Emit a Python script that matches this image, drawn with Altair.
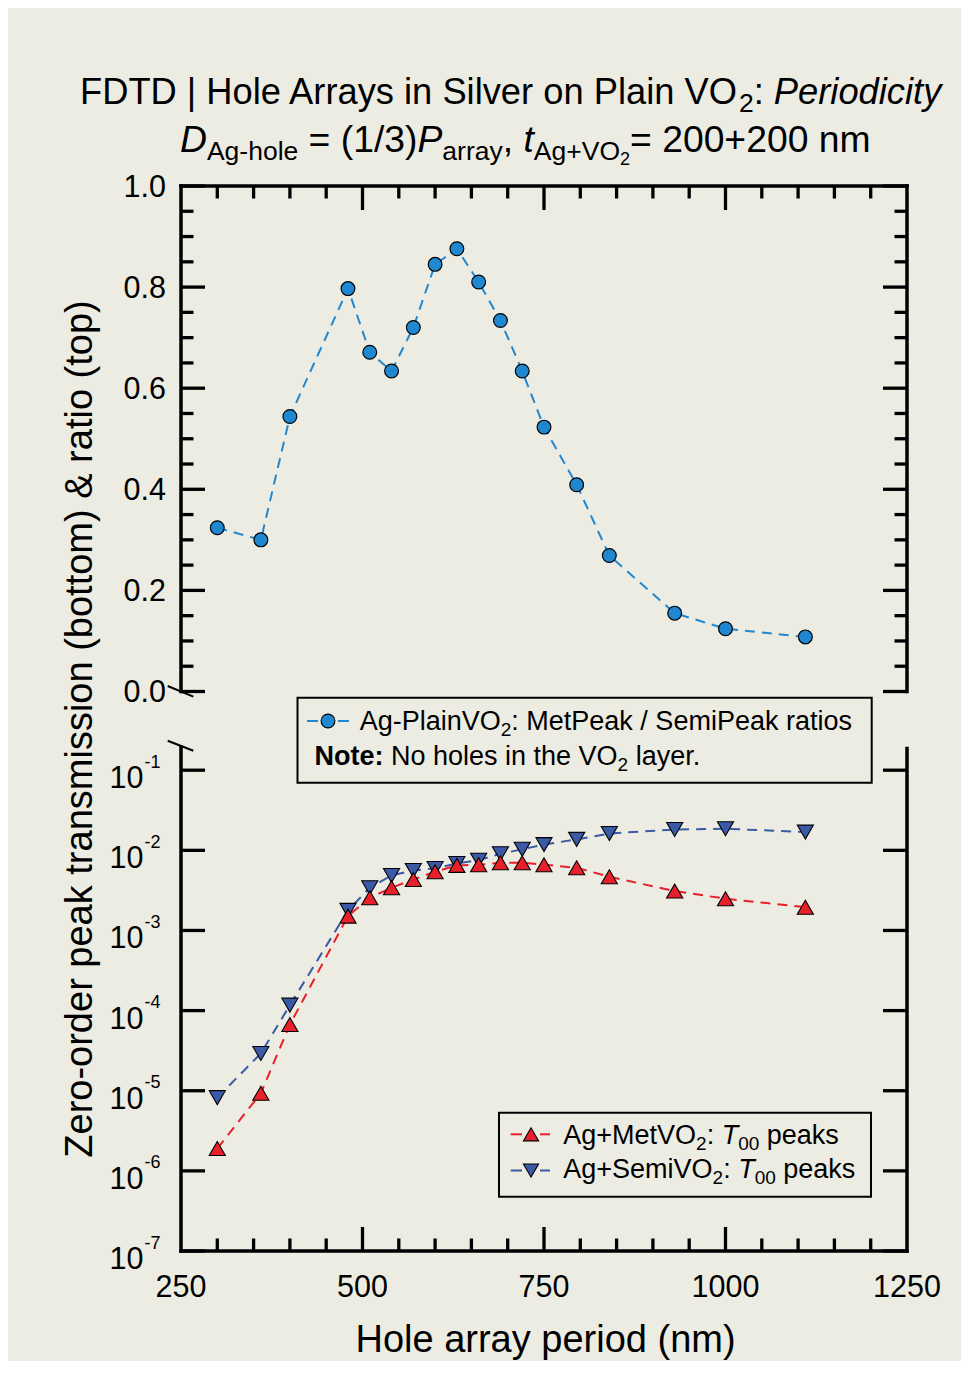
import altair as alt
import pandas as pd

# ---------------- data ----------------
period_nm = [300, 360, 400, 480, 510, 540, 570, 600, 630, 660, 690, 720, 750, 795, 840, 930, 1000, 1110]
ratio_met_over_semi = [0.324, 0.300, 0.544, 0.797, 0.671, 0.634, 0.720, 0.845, 0.876, 0.810,
                       0.734, 0.634, 0.523, 0.409, 0.269, 0.155, 0.124, 0.108]
t00_met_vo2 = [1.9e-6, 9.3e-6, 6.7e-5, 1.51e-3, 2.56e-3, 3.41e-3, 4.33e-3, 5.40e-3, 6.48e-3,
               6.61e-3, 7.0e-3, 7.0e-3, 6.61e-3, 6.06e-3, 4.68e-3, 3.10e-3, 2.49e-3, 1.95e-3]
t00_semi_vo2 = [8.2e-6, 2.92e-5, 1.17e-4, 1.78e-3, 3.41e-3, 4.86e-3, 5.61e-3, 5.94e-3, 6.86e-3,
                7.54e-3, 9.06e-3, 1.03e-2, 1.18e-2, 1.37e-2, 1.62e-2, 1.82e-2, 1.86e-2, 1.69e-2]

x_tick_labels = [250, 500, 750, 1000, 1250]
x_major_ticks = [500, 750, 1000]
x_minor_ticks = [300, 350, 400, 450, 550, 600, 650, 700, 800, 850, 900, 950, 1050, 1100, 1150, 1200]
ratio_major_ticks = [0.0, 0.2, 0.4, 0.6, 0.8, 1.0]
ratio_tick_labels = ["0.0", "0.2", "0.4", "0.6", "0.8", "1.0"]
ratio_minor_ticks = [0.05, 0.10, 0.15, 0.25, 0.30, 0.35, 0.45, 0.50, 0.55, 0.65, 0.70, 0.75, 0.85, 0.90, 0.95]
log_ticks = [1e-1, 1e-2, 1e-3, 1e-4, 1e-5, 1e-6, 1e-7]
log_exponents = ["-1", "-2", "-3", "-4", "-5", "-6", "-7"]

title_line1 = [("FDTD | Hole Arrays in Silver on Plain VO", "t1", "n", 0), ("2", "sub", "n", 8),
               (": ", "t1", "n", 0), ("Periodicity", "t1", "i", 0)]
title_line2 = [("D", "big", "i", 0), ("Ag-hole", "sub", "n", 8), (" = (1/3)", "big", "n", 0),
               ("P", "big", "i", 0), ("array", "sub", "n", 8), (", ", "big", "n", 0),
               ("t", "big", "i", 0), ("Ag+VO", "sub", "n", 8), ("2", "subsub", "n", 13),
               ("= 200+200 nm", "big", "n", 0)]
legend_top_1 = [("Ag-PlainVO", "leg", "n", 0), ("2", "legsub", "n", 6), (": MetPeak / SemiPeak ratios", "leg", "n", 0)]
legend_top_2 = [("Note:", "leg", "b", 0), (" No holes in the VO", "leg", "n", 0), ("2", "legsub", "n", 6),
                (" layer.", "leg", "n", 0)]
legend_bot_1 = [("Ag+MetVO", "leg", "n", 0), ("2", "legsub", "n", 6), (": ", "leg", "n", 0),
                ("T", "leg", "i", 0), ("00", "legsub", "n", 6), (" peaks", "leg", "n", 0)]
legend_bot_2 = [("Ag+SemiVO", "leg", "n", 0), ("2", "legsub", "n", 6), (": ", "leg", "n", 0),
                ("T", "leg", "i", 0), ("00", "legsub", "n", 6), (" peaks", "leg", "n", 0)]
x_title = "Hole array period (nm)"
y_title = "Zero-order peak transmission (bottom) & ratio (top)"

# ---------------- styling / geometry ----------------
FONT = "Liberation Sans"
BG = "#ECECE3"
BLUE1 = "#1F88D1"
RED = "#E8202B"
BLUE2 = "#3A5AA8"
SIZES = {"t1": 36.3, "big": 37.3, "sub": 26.5, "subsub": 18, "leg": 27, "legsub": 19}
W, H = 726, 1065
TOP_H = 505.5          # bottom of upper (linear) panel
DEC1 = 584.2           # pixel row of 1e-1 in lower (log) panel
TICK_LBL = 30.5
AX_TITLE = 38

xs = alt.Scale(domain=[250, 1250], range=[0, W], nice=False, zero=False)
ys_top = alt.Scale(domain=[0, 1], range=[TOP_H, 0], nice=False, zero=False)
ys_bot = alt.Scale(type="log", domain=[1e-7, 1e-1], range=[H, DEC1], nice=False)

# Helvetica / Arial advance widths (1/1000 em) for text layout
_chars = " !\"#$%&'()*+,-./0123456789:;<=>?@ABCDEFGHIJKLMNOPQRSTUVWXYZ[\\]^_`abcdefghijklmnopqrstuvwxyz{|}~"
_w = [278, 278, 355, 556, 556, 889, 667, 191, 333, 333, 389, 584, 278, 333, 278, 278] + [556] * 10 + \
     [278, 278, 584, 584, 584, 556, 1015, 667, 667, 722, 722, 667, 611, 778, 722, 278, 500, 667, 556, 833,
      722, 778, 667, 778, 722, 667, 611, 722, 667, 944, 667, 667, 611, 278, 278, 278, 469, 556, 333,
      556, 556, 500, 556, 556, 278, 556, 556, 222, 222, 500, 222, 833, 556, 556, 556, 556, 333, 500,
      278, 556, 500, 722, 500, 500, 500, 334, 260, 334, 584]
HELV = dict(zip(_chars, _w))
HELV_B = {"N": 722, "o": 611, "t": 333, "e": 556, ":": 333}


def tw(s, fs, bold=False):
    tot = 0
    for c in s:
        tot += (HELV_B.get(c, HELV.get(c, 556) * 1.05) if bold else HELV.get(c, 556))
    return tot * fs / 1000.0


def run(x0, y0, segs):
    rows, x = [], x0
    for txt, sz, st, dy in segs:
        fs = SIZES[sz]
        lead = len(txt) - len(txt.lstrip(" "))
        rows.append(dict(px=x + tw(" " * lead, fs), py=y0 + dy, txt=txt.strip(" "), fs=fs, st=st))
        x += tw(txt, fs, st == "b")
    return rows


txt_rows = []
txt_rows += run(-101.0, -81.7, title_line1)
txt_rows += run(-1.0, -33.7, title_line2)
txt_rows += run(178.7, 544.0, legend_top_1)
txt_rows += run(133.5, 579.0, legend_top_2)
txt_rows += run(382.3, 957.5, legend_bot_1)
txt_rows += run(382.3, 992.0, legend_bot_2)
df_txt = pd.DataFrame(txt_rows)

# ---------------- data layers ----------------
df = pd.DataFrame({"p": period_nm, "r": ratio_met_over_semi, "tm": t00_met_vo2, "ts": t00_semi_vo2})


def X(f):
    return alt.X(f"{f}:Q", scale=xs, axis=None)


top_line = alt.Chart(df).mark_line(color=BLUE1, strokeWidth=2, strokeDash=[10, 7]).encode(
    x=X("p"), y=alt.Y("r:Q", scale=ys_top, axis=None))
top_pts = alt.Chart(df).mark_point(shape="circle", filled=True, color=BLUE1, stroke="black",
                                   strokeWidth=1.2, size=190, opacity=1).encode(
    x=X("p"), y=alt.Y("r:Q", scale=ys_top, axis=None))
semi_line = alt.Chart(df).mark_line(color=BLUE2, strokeWidth=2, strokeDash=[10, 7]).encode(
    x=X("p"), y=alt.Y("ts:Q", scale=ys_bot, axis=None))
met_line = alt.Chart(df).mark_line(color=RED, strokeWidth=2, strokeDash=[10, 7]).encode(
    x=X("p"), y=alt.Y("tm:Q", scale=ys_bot, axis=None))
semi_pts = alt.Chart(df).mark_point(shape="triangle-down", filled=True, color=BLUE2, stroke="black",
                                    strokeWidth=1.1, size=260, opacity=1).encode(
    x=X("p"), y=alt.Y("ts:Q", scale=ys_bot, axis=None))
met_pts = alt.Chart(df).mark_point(shape="triangle-up", filled=True, color=RED, stroke="black",
                                   strokeWidth=1.1, size=260, opacity=1).encode(
    x=X("p"), y=alt.Y("tm:Q", scale=ys_bot, axis=None))

# ---------------- frame, ticks ----------------
axis_segs = pd.DataFrame([
    dict(x1=0, y1=0, x2=0, y2=TOP_H), dict(x1=W, y1=0, x2=W, y2=TOP_H), dict(x1=0, y1=0, x2=W, y2=0),
    dict(x1=0, y1=561, x2=0, y2=H), dict(x1=W, y1=562.5, x2=W, y2=H), dict(x1=0, y1=H, x2=W, y2=H),
])
frame = alt.Chart(axis_segs).mark_rule(color="black", strokeWidth=3.5, strokeCap="square").encode(
    x=alt.X("x1:Q", scale=None, axis=None), x2="x2:Q",
    y=alt.Y("y1:Q", scale=None, axis=None), y2="y2:Q")

break_segs = pd.DataFrame([
    dict(x1=-13.3, y1=500.0, x2=12.3, y2=510.7), dict(x1=-13.3, y1=554.7, x2=12.3, y2=564.7),
])
breaks = alt.Chart(break_segs).mark_rule(color="black", strokeWidth=2).encode(
    x=alt.X("x1:Q", scale=None, axis=None), x2="x2:Q",
    y=alt.Y("y1:Q", scale=None, axis=None), y2="y2:Q")

xt = []
for v in x_minor_ticks:
    xt += [dict(v=v, a=0, b=12.5), dict(v=v, a=H, b=H - 12.5)]
for v in x_major_ticks:
    xt += [dict(v=v, a=0, b=24), dict(v=v, a=H, b=H - 24)]
x_ticks = alt.Chart(pd.DataFrame(xt)).mark_rule(color="black", strokeWidth=3.3).encode(
    x=X("v"), y=alt.Y("a:Q", scale=None, axis=None), y2="b:Q")

yt = []
for v in ratio_minor_ticks:
    yt += [dict(v=v, a=0, b=12.5), dict(v=v, a=W, b=W - 12.5)]
for v in ratio_major_ticks:
    yt += [dict(v=v, a=0, b=24), dict(v=v, a=W, b=W - 24)]
top_y_ticks = alt.Chart(pd.DataFrame(yt)).mark_rule(color="black", strokeWidth=3.3).encode(
    y=alt.Y("v:Q", scale=ys_top, axis=None), x=alt.X("a:Q", scale=None, axis=None), x2="b:Q")

lt = []
for v in log_ticks:
    lt += [dict(v=v, a=0, b=24), dict(v=v, a=W, b=W - 24)]
bot_y_ticks = alt.Chart(pd.DataFrame(lt)).mark_rule(color="black", strokeWidth=3.3).encode(
    y=alt.Y("v:Q", scale=ys_bot, axis=None), x=alt.X("a:Q", scale=None, axis=None), x2="b:Q")

# ---------------- tick labels ----------------
x_lbl = alt.Chart(pd.DataFrame({"v": x_tick_labels, "t": [str(v) for v in x_tick_labels]})).mark_text(
    font=FONT, fontSize=TICK_LBL, align="center", baseline="alphabetic", color="black").encode(
    x=X("v"), y=alt.value(1111), text="t:N")
top_lbl = alt.Chart(pd.DataFrame({"v": ratio_major_ticks, "t": ratio_tick_labels})).mark_text(
    font=FONT, fontSize=TICK_LBL, align="right", baseline="alphabetic", dy=10.5, color="black").encode(
    y=alt.Y("v:Q", scale=ys_top, axis=None), x=alt.value(-15), text="t:N")
df_log = pd.DataFrame({"v": log_ticks, "e": log_exponents, "b": ["10"] * len(log_ticks)})
log_base = alt.Chart(df_log).mark_text(
    font=FONT, fontSize=TICK_LBL, align="right", baseline="alphabetic", dy=18, color="black").encode(
    y=alt.Y("v:Q", scale=ys_bot, axis=None), x=alt.value(-37.5), text="b:N")
log_exp = alt.Chart(df_log).mark_text(
    font=FONT, fontSize=18, align="left", baseline="alphabetic", dy=-2.5, color="black").encode(
    y=alt.Y("v:Q", scale=ys_bot, axis=None), x=alt.value(-36.5), text="e:N")

# ---------------- titles ----------------
xt_mark = alt.Chart(pd.DataFrame({"t": [x_title]})).mark_text(
    font=FONT, fontSize=AX_TITLE, align="center", baseline="alphabetic", color="black").encode(
    x=alt.value(364.5), y=alt.value(1166), text="t:N")
yt_mark = alt.Chart(pd.DataFrame({"t": [y_title]})).mark_text(
    font=FONT, fontSize=AX_TITLE, align="center", baseline="alphabetic", angle=270, color="black").encode(
    x=alt.value(-89.5), y=alt.value(543), text="t:N")

# ---------------- legends (drawn) ----------------
boxes = pd.DataFrame([
    dict(x1=116.5, x2=690.7, y1=511.7, y2=596.7),
    dict(x1=318.0, x2=690.0, y1=926.7, y2=1010.7),
])
box_mark = alt.Chart(boxes).mark_rect(fill=BG, stroke="black", strokeWidth=2).encode(
    x=alt.X("x1:Q", scale=None, axis=None), x2="x2:Q",
    y=alt.Y("y1:Q", scale=None, axis=None), y2="y2:Q")

leg_lines = pd.DataFrame([
    dict(x1=126, x2=137, y=535, c="b1"), dict(x1=157, x2=168, y=535, c="b1"),
    dict(x1=329.7, x2=341, y=948.3, c="r"), dict(x1=359, x2=369, y=948.3, c="r"),
    dict(x1=329.7, x2=341, y=984.5, c="b2"), dict(x1=359, x2=369, y=984.5, c="b2"),
])
leg_line_mark = alt.Chart(leg_lines).mark_rule(strokeWidth=2).encode(
    x=alt.X("x1:Q", scale=None, axis=None), x2="x2:Q",
    y=alt.Y("y:Q", scale=None, axis=None),
    color=alt.Color("c:N", scale=alt.Scale(domain=["b1", "r", "b2"], range=[BLUE1, RED, BLUE2]), legend=None))
leg_sym = pd.DataFrame([
    dict(x=147, y=535, s="circle", c="b1", z=190),
    dict(x=350, y=948.3, s="triangle-up", c="r", z=230),
    dict(x=350, y=984.5, s="triangle-down", c="b2", z=230),
])
leg_sym_mark = alt.Chart(leg_sym).mark_point(filled=True, stroke="black", strokeWidth=1.1,
                                             opacity=1).encode(
    x=alt.X("x:Q", scale=None, axis=None), y=alt.Y("y:Q", scale=None, axis=None),
    shape=alt.Shape("s:N", scale=None, legend=None),
    size=alt.Size("z:Q", scale=None, legend=None),
    fill=alt.Fill("c:N", scale=alt.Scale(domain=["b1", "r", "b2"], range=[BLUE1, RED, BLUE2]), legend=None))


def text_layer(style):
    sub = df_txt[df_txt["st"] == style]
    kw = {}
    if style == "i":
        kw["fontStyle"] = "italic"
    if style == "b":
        kw["fontWeight"] = "bold"
    return alt.Chart(sub).mark_text(font=FONT, align="left", baseline="alphabetic", color="black", **kw).encode(
        x=alt.X("px:Q", scale=None, axis=None), y=alt.Y("py:Q", scale=None, axis=None),
        text="txt:N", size=alt.Size("fs:Q", scale=None, legend=None))


layers = [top_line, top_pts, semi_line, met_line, semi_pts, met_pts,
          frame, breaks, x_ticks, top_y_ticks, bot_y_ticks,
          x_lbl, top_lbl, log_base, log_exp, xt_mark, yt_mark,
          box_mark, leg_line_mark, leg_sym_mark,
          text_layer("n"), text_layer("i"), text_layer("b")]

chart = alt.layer(*layers).resolve_scale(
    x="independent", y="independent", color="independent", fill="independent", shape="independent", size="independent"
).properties(
    width=W, height=H, background=BG,
    padding={"left": 173, "top": 178, "right": 54, "bottom": 110},
    autosize=alt.AutoSizeParams(type="none"),
).configure_view(stroke=None)

chart.save("out.html", embed_options={"renderer": "svg", "actions": False})
